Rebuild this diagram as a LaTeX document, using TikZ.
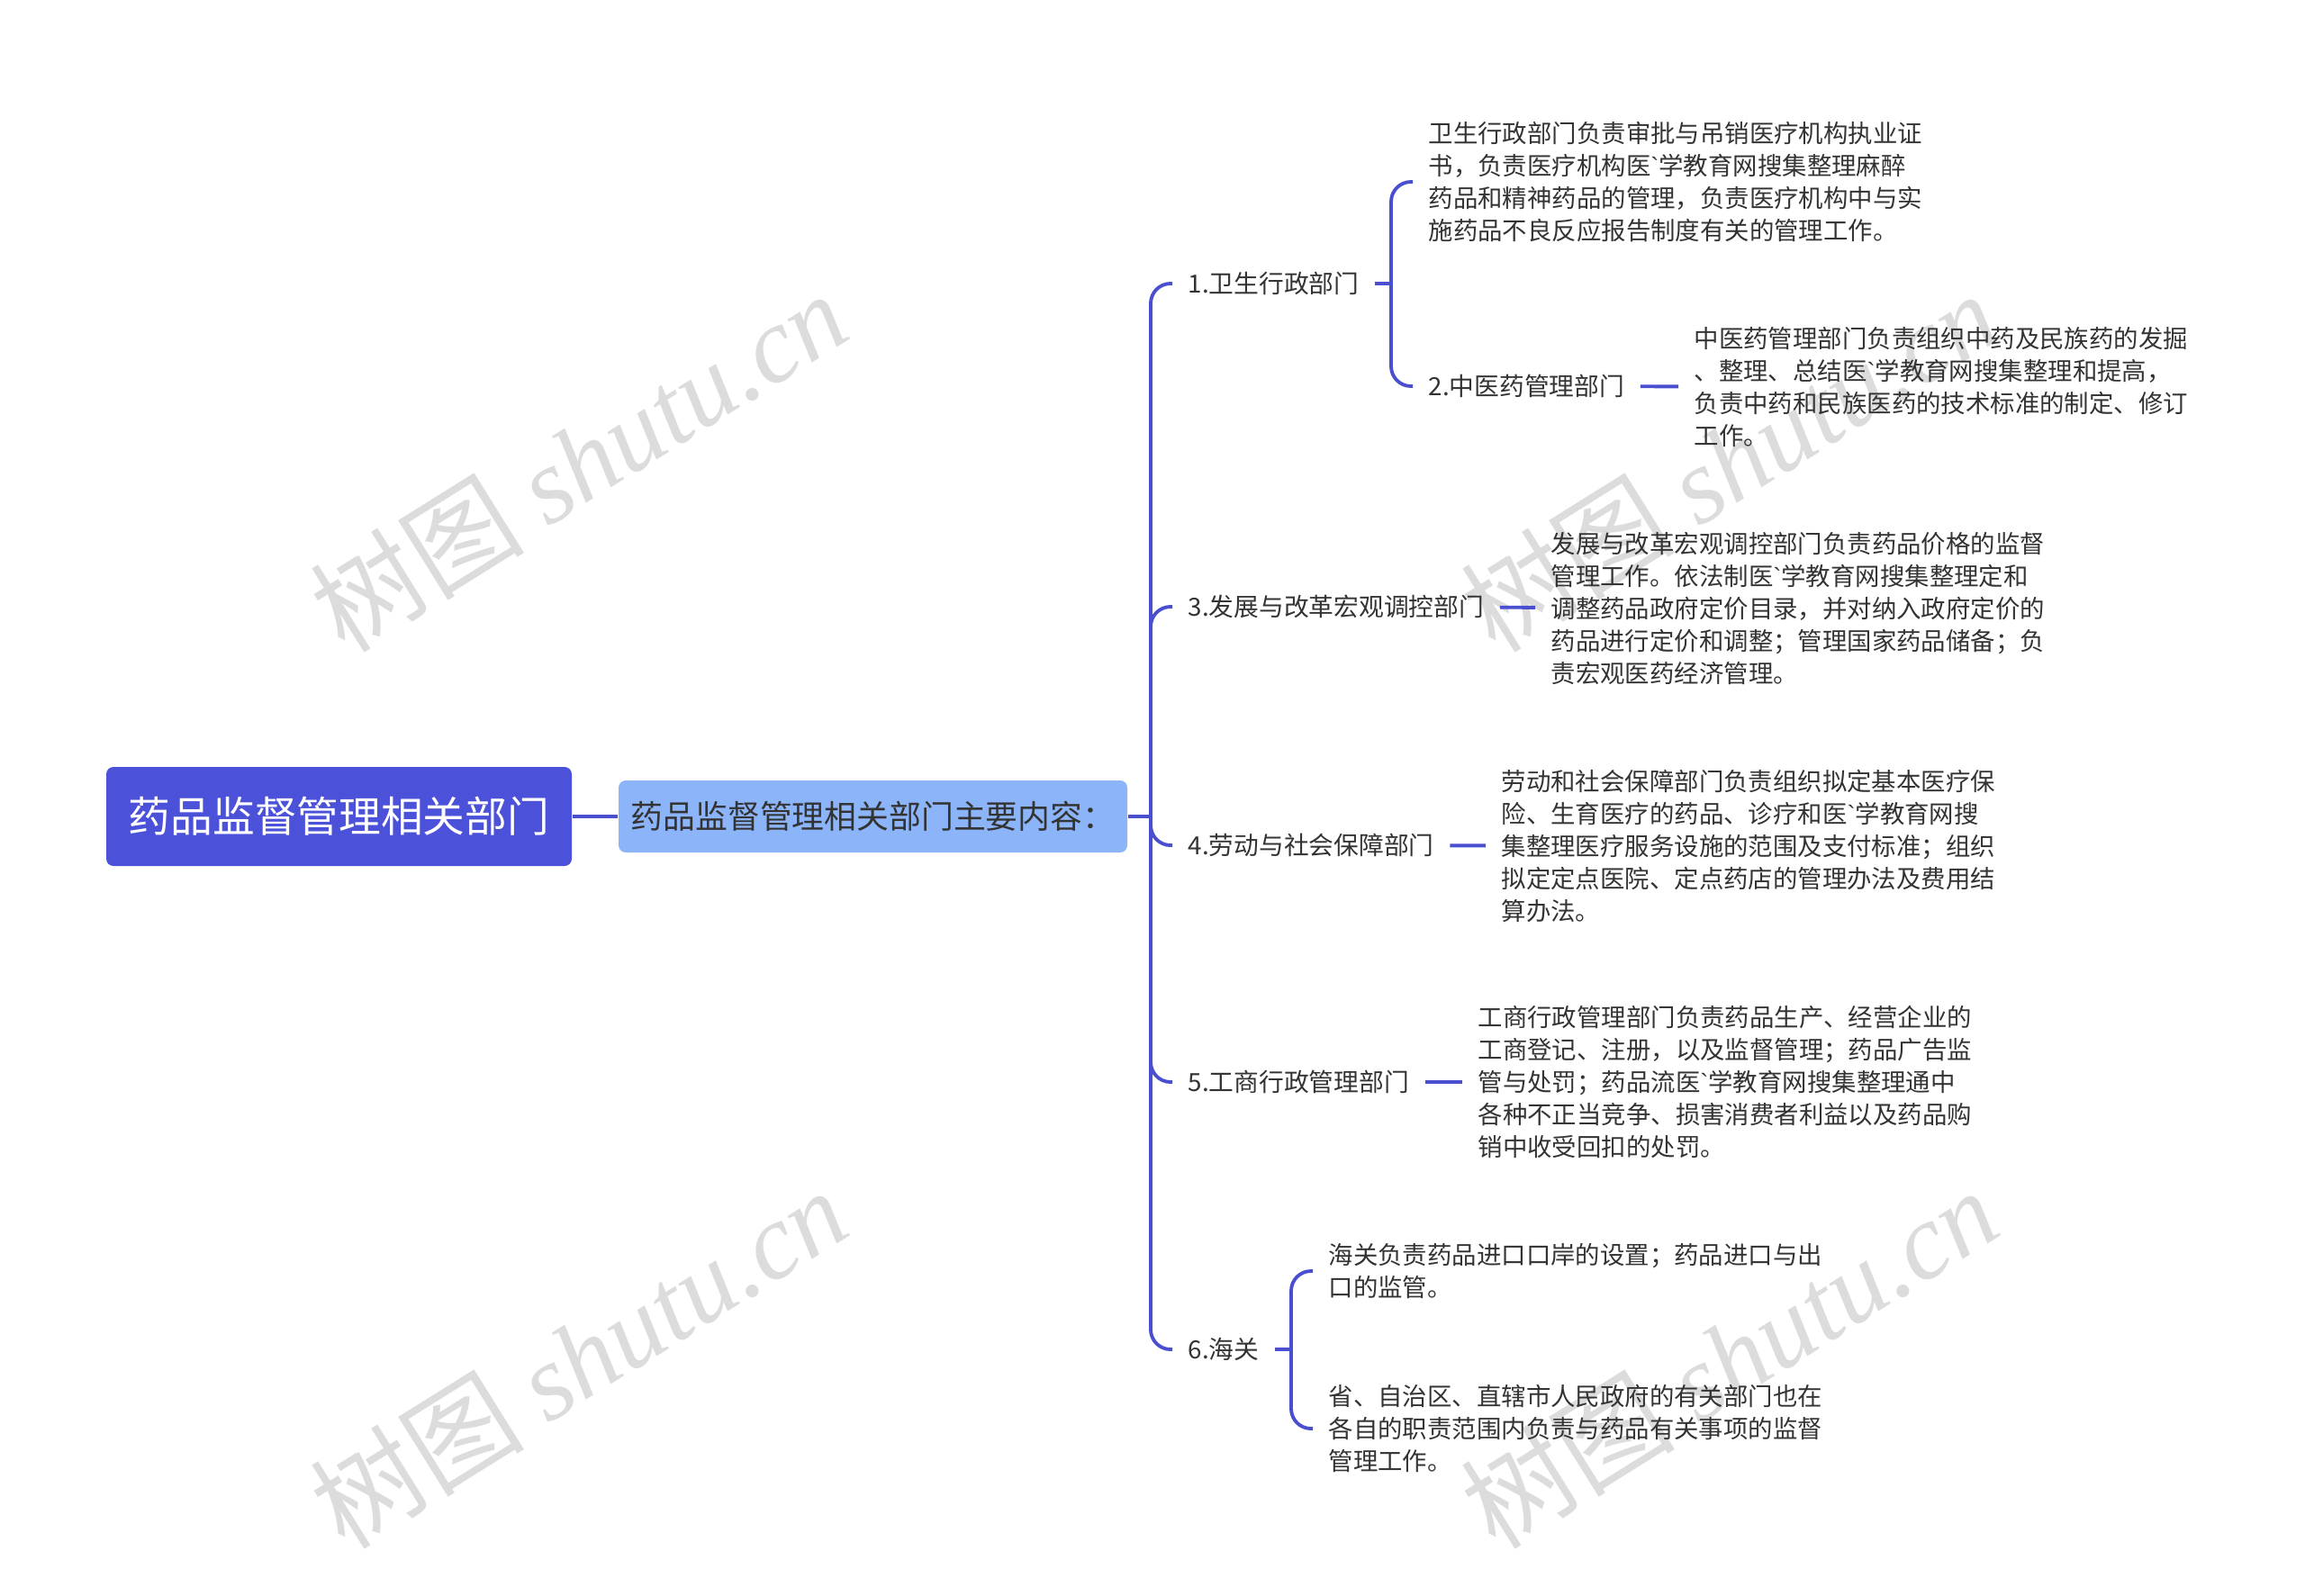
\documentclass[tikz,border=0pt]{standalone}
\usepackage{fontspec}
\setmainfont{Noto Sans CJK SC}
\newfontfamily\wmlatin{Liberation Serif}
\newfontfamily\gravefont{Liberation Sans}
\usetikzlibrary{calc}
\definecolor{rootblue}{HTML}{4B51D8}
\definecolor{topicblue}{HTML}{8CB4F8}
\definecolor{linkblue}{HTML}{4A4FCF}
\definecolor{txtgray}{HTML}{333333}
\definecolor{wmgray}{HTML}{DCDCDC}
\newcommand{\gravemark}{{\gravefont\symbol{"60}}}
\tikzset{link/.style={line width=1.1pt,draw=linkblue,rounded corners=0.22cm},
 root/.style={fill=rootblue,text=white,rounded corners=0.08cm,minimum width=5.17cm,minimum height=1.1cm,font=\fontsize{13.3}{16}\selectfont},
 topic/.style={fill=topicblue,text=txtgray,rounded corners=0.08cm,inner xsep=0pt,minimum width=5.65cm,minimum height=0.8cm,font=\fontsize{10.2}{13}\selectfont},
 dept/.style={anchor=west,inner xsep=0.17cm,inner ysep=0.05cm,text=txtgray,font=\fontsize{7.9}{10.24}\selectfont},
 note/.style={anchor=west,inner xsep=0.17cm,inner ysep=0.05cm,align=left,text=txtgray,font=\fontsize{7.8}{10.24}\selectfont},
 wm/.style={text=wmgray,rotate=32,font=\fontsize{34}{34}\selectfont}}

\begin{document}
\begin{tikzpicture}
\useasboundingbox (0,0) rectangle (25.6,-17.72);
% watermarks
\foreach \x/\y in {6.42/-5.12,6.42/-15.08,19.2/-5.12,19.2/-15.08}
 \node[wm] at (\x,\y) {树图 {\wmlatin\itshape shutu.cn}};
% centre
\node[root] (root) at (3.765,-9.07) {药品监督管理相关部门};
\node[topic] (topic) at (9.695,-9.07) {药品监督管理相关部门主要内容：};
\draw[link] (root) -- (topic);
% departments
\coordinate (hub) at (12.78,-9.07);
\node[dept] (weisheng) at (13.02,-3.15) {1.卫生行政部门};
\node[dept] (fagai) at (13.02,-6.74) {3.发展与改革宏观调控部门};
\node[dept] (laodong) at (13.02,-9.39) {4.劳动与社会保障部门};
\node[dept] (gongshang) at (13.02,-12.02) {5.工商行政管理部门};
\node[dept] (haiguan) at (13.02,-14.99) {6.海关};
\draw[link] (topic.east) -- (hub);
\foreach \d in {weisheng,fagai,laodong,gongshang,haiguan}
 \draw[link] (hub) |- (\d.west);
% 1
\coordinate (hubws) at (15.45,-3.15);
\node[note] (weishengtxt) at (15.69,-2.02) {卫生行政部门负责审批与吊销医疗机构执业证\\书，负责医疗机构医\gravemark 学教育网搜集整理麻醉\\药品和精神药品的管理，负责医疗机构中与实\\施药品不良反应报告制度有关的管理工作。};
\node[dept] (zhongyi) at (15.69,-4.29) {2.中医药管理部门};
\node[note] (zhongyitxt) at (18.64,-4.30) {中医药管理部门负责组织中药及民族药的发掘\\、整理、总结医\gravemark 学教育网搜集整理和提高，\\负责中药和民族医药的技术标准的制定、修订\\工作。};
\draw[link] (weisheng.east) -- (hubws);
\foreach \n in {weishengtxt,zhongyi} \draw[link] (hubws) |- (\n.west);
\draw[link] (zhongyi) -- (zhongyitxt);
% 3, 4, 5
\node[note] (fagaitxt) at (17.05,-6.76) {发展与改革宏观调控部门负责药品价格的监督\\管理工作。依法制医\gravemark 学教育网搜集整理定和\\调整药品政府定价目录，并对纳入政府定价的\\药品进行定价和调整；管理国家药品储备；负\\责宏观医药经济管理。};
\node[note] (laodongtxt) at (16.50,-9.40) {劳动和社会保障部门负责组织拟定基本医疗保\\险、生育医疗的药品、诊疗和医\gravemark 学教育网搜\\集整理医疗服务设施的范围及支付标准；组织\\拟定定点医院、定点药店的管理办法及费用结\\算办法。};
\node[note] (gongshangtxt) at (16.24,-12.02) {工商行政管理部门负责药品生产、经营企业的\\工商登记、注册，以及监督管理；药品广告监\\管与处罚；药品流医\gravemark 学教育网搜集整理通中\\各种不正当竞争、损害消费者利益以及药品购\\销中收受回扣的处罚。};
\draw[link] (fagai) -- (fagaitxt);
\draw[link] (laodong) -- (laodongtxt);
\draw[link] (gongshang) -- (gongshangtxt);
% 6
\coordinate (hubhg) at (14.34,-14.99);
\node[note] (haiguantxt) at (14.58,-14.12) {海关负责药品进口口岸的设置；药品进口与出\\口的监管。};
\node[note] (shengtxt) at (14.58,-15.87) {省、自治区、直辖市人民政府的有关部门也在\\各自的职责范围内负责与药品有关事项的监督\\管理工作。};
\draw[link] (haiguan.east) -- (hubhg);
\foreach \n in {haiguantxt,shengtxt} \draw[link] (hubhg) |- (\n.west);
\end{tikzpicture}
\end{document}
